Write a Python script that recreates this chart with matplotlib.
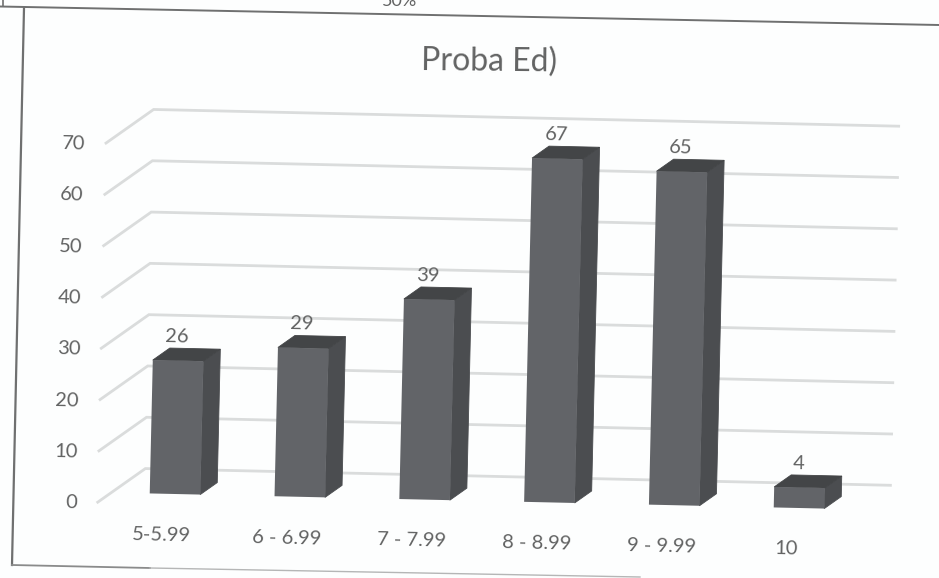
"""
Scanned 3D column chart, drawn on a pixel sized canvas.
"""
import matplotlib.pyplot as plt
from matplotlib.transforms import Affine2D

plt.rcParams['font.family'] = ['Lato', 'DejaVu Sans']

TITLE = 'Proba Ed)'
CATEGORIES = ['5-5.99', '6 - 6.99', '7 - 7.99', '8 - 8.99', '9 - 9.99', '10']
VALUES = [26, 29, 39, 67, 65, 4]
TICKS = [0, 10, 20, 30, 40, 50, 60, 70]

TEXT = '#626363'
GRID = '#dadcdc'
PAPER = '#fdfefe'
LINE = '#6f7070'
FRONT = '#626468'
SIDE = '#4b4d50'
TOP = '#434547'
BAR_WIDTH = 0.405
TILT = -1.3

# chart units (category, value) to image pixels, the scan is slightly skewed
chart = Affine2D.from_values(124.8, 2.8, 0.118, -5.13, 175, 494)
# one depth unit is the depth of a column
DEPTH_X, DEPTH_Y = 17, -12


def _project(x, v, d=0):
  px, py = chart.transform((x, v))
  return px + d * DEPTH_X, py + d * DEPTH_Y


def _poly(ax, points, color, zorder):
  pts = [_project(*p) for p in points]
  ax.fill([p[0] for p in pts], [p[1] for p in pts], color=color, lw=0.6,
    zorder=zorder)


fig = plt.figure(figsize=(9.39, 5.78), dpi=100, facecolor=PAPER)
ax = fig.add_axes([0, 0, 1, 1])
ax.set_facecolor(PAPER)

# Page and chart borders
ax.plot([0, 939], [6.5, 25], color=LINE, lw=1.4, zorder=1)
ax.plot([3, 3], [0, 6], color=LINE, lw=1.2, zorder=1)
ax.plot([24, 12], [8, 565], color=LINE, lw=1.6, zorder=1)
ax.plot([12, 150], [565, 568], color='#8a8b8b', lw=1.3, zorder=1)
ax.plot([150, 640], [568, 577], color='#b5b6b6', lw=1.0, zorder=1)
ax.text(400, 6, '50%', color=TEXT, fontsize=13, ha='center', va='baseline',
  clip_on=True)

# Gridlines and value axis labels
x_left, x_right, d_front, d_back = -0.51, 5.46, -0.8, 2
for t in TICKS:
  a = _project(x_left, t, d_front)
  b = _project(x_left, t, d_back)
  c = _project(x_right, t, d_back)
  ax.plot([a[0], b[0], c[0]], [a[1], b[1], c[1]], color=GRID, lw=2,
    solid_joinstyle='miter', zorder=2)
  ax.text(a[0] - 21, a[1] + 1, str(t), color=TEXT, fontsize=14.5, ha='right',
    va='center', rotation=TILT, rotation_mode='anchor')

# Columns
for i, (cat, v) in enumerate(zip(CATEGORIES, VALUES)):
  l, r = i - BAR_WIDTH / 2, i + BAR_WIDTH / 2
  ax.bar(i, v, BAR_WIDTH, color=FRONT, transform=chart + ax.transData,
    zorder=4)
  _poly(ax, [(r, 0), (r, v), (r, v, 1), (r, 0, 1)], SIDE, 3)
  _poly(ax, [(l, v), (r, v), (r, v, 1), (l, v, 1)], TOP, 3)
  px, py = _project(i, v)
  ax.text(px - 1, py - 24, str(v), color=TEXT, fontsize=14.5, ha='center',
    va='center', rotation=TILT, rotation_mode='anchor', zorder=5)
  px, py = _project(i, 0)
  ax.text(px - 13, py + 41, cat, color=TEXT, fontsize=14.5, ha='center',
    va='center', rotation=TILT, rotation_mode='anchor', zorder=5)

ax.text(489, 62, TITLE, color=TEXT, fontsize=23, ha='center', va='center',
  rotation=-0.6, rotation_mode='anchor')

ax.set_xlim(0, 939)
ax.set_ylim(578, 0)
ax.axis('off')
fig.savefig('out.png', dpi=100, facecolor=PAPER)
